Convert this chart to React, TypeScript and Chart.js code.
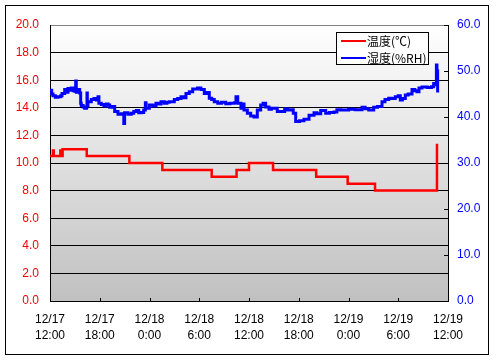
import React, { useEffect, useRef } from 'react';
import { Chart, registerables } from 'chart.js';
Chart.register(...registerables);

const seriesNames = ['温度(℃)', '湿度(%RH)'];
const xTickHours = [0, 6, 12, 18, 24, 30, 36, 42, 48];
const xTickLabels = [
  ['12/17', '12:00'], ['12/17', '18:00'], ['12/18', '0:00'], ['12/18', '6:00'],
  ['12/18', '12:00'], ['12/18', '18:00'], ['12/19', '0:00'], ['12/19', '6:00'], ['12/19', '12:00'],
];

const tempHours = [0, 0.35, 0.45, 1.25, 1.3, 1.52, 4.43, 9.57, 13.55, 19.5, 22.5, 24.0, 26.9, 32.1, 35.9, 39.2, 46.67];
const tempValues = [10.5, 10.9, 10.5, 10.9, 10.5, 11.0, 10.5, 10.0, 9.5, 9.0, 9.5, 10.0, 9.5, 9.0, 8.5, 8.0, 11.4];

const humidHours = [
  0, 0.2, 0.36, 0.64, 0.96, 1.3, 1.45, 1.77, 2.0, 2.17, 2.4, 2.57, 2.8, 2.98, 3.1, 3.17, 3.4, 3.58, 3.7, 3.77,
  4.0, 4.18, 4.4, 4.46, 4.5, 4.58, 4.98, 5.3, 5.6, 5.79, 5.9, 6.19, 6.5, 6.79, 7.0, 7.2, 7.5, 7.8, 8.2, 8.6,
  8.9, 9.0, 9.4, 9.8, 10.1, 10.41, 10.7, 11.01, 11.3, 11.5, 11.58, 11.98, 12.4, 12.78, 13.1, 13.39, 13.78, 14.1, 14.39, 14.99,
  15.4, 15.8, 16.1, 16.4, 16.8, 17.21, 17.8, 18.2, 18.61, 18.9, 19.21, 19.5, 19.81, 20.23, 20.7, 21.2, 21.7, 22.23, 22.43, 22.64,
  23.03, 23.2, 23.4, 23.8, 24.2, 24.6, 25.0, 25.41, 25.7, 26.01, 26.41, 26.7, 27.01, 27.41, 28.02, 28.3, 28.62, 29.0, 29.34, 29.63,
  30.1, 30.63, 31.24, 31.84, 32.2, 32.65, 33.25, 33.7, 34.25, 34.6, 35.06, 35.46, 36.02, 36.8, 37.63, 38.0, 38.44, 39.04, 39.5, 40.04,
  40.4, 40.85, 41.2, 41.64, 42.0, 42.25, 42.5, 42.85, 43.2, 43.66, 44.0, 44.26, 44.5, 44.86, 45.5, 46.0, 46.27, 46.5, 46.6, 46.67, 46.75,
];
const humidValues = [
  45.8, 45.0, 44.6, 44.3, 44.4, 44.6, 45.1, 46.0, 45.4, 46.2, 45.8, 46.3, 45.7, 45.6, 47.8, 45.4, 46.0, 45.2, 43.0, 42.5,
  42.2, 41.9, 42.2, 45.2, 42.5, 43.3, 43.8, 44.0, 43.7, 44.4, 43.0, 42.7, 42.4, 42.8, 42.6, 42.1, 42.3, 41.2, 40.6, 40.7,
  38.6, 40.9, 40.6, 40.8, 41.2, 41.4, 40.9, 41.0, 41.5, 43.1, 41.9, 42.6, 42.4, 43.0, 42.8, 43.3, 43.0, 43.2, 43.3, 43.8,
  44.0, 44.4, 44.2, 45.1, 45.5, 46.1, 46.3, 46.0, 45.1, 45.3, 44.1, 43.8, 43.3, 43.0, 43.2, 42.9, 43.0, 43.1, 44.4, 43.0,
  41.9, 42.8, 41.5, 40.8, 40.2, 40.0, 41.5, 42.6, 43.0, 42.2, 41.7, 41.9, 41.9, 41.2, 41.2, 41.8, 41.5, 41.6, 40.8, 39.0,
  39.2, 39.5, 40.4, 40.9, 40.7, 41.4, 40.8, 41.0, 41.1, 41.6, 41.5, 41.5, 41.7, 41.6, 42.1, 41.8, 41.5, 42.1, 42.3, 43.3,
  43.8, 44.1, 44.0, 44.4, 44.6, 43.7, 44.0, 44.8, 45.0, 46.0, 45.7, 45.5, 46.3, 46.5, 46.4, 46.6, 47.3, 47.0, 51.3, 50.0, 45.3,
];

const seriesColors = ['#ff0000', '#0000ff'];
const FONT = '"Liberation Sans", Arial, sans-serif';
const CJK = '"Noto Sans CJK JP", "Liberation Sans", sans-serif';

const decor = {
  id: 'decor',
  beforeDraw(chart: any) {
    const { ctx, chartArea: a } = chart;
    ctx.save();
    ctx.fillStyle = '#ffffff';
    ctx.fillRect(0, 0, chart.width, chart.height);
    const g = ctx.createLinearGradient(0, a.top, 0, a.bottom);
    g.addColorStop(0, '#ffffff');
    g.addColorStop(1, '#c0c0c0');
    ctx.fillStyle = g;
    ctx.fillRect(a.left, a.top, a.right - a.left, a.bottom - a.top);
    ctx.strokeStyle = '#000';
    ctx.lineWidth = 1;
    ctx.strokeRect(5.5, 5.5, 483, 349);
    ctx.restore();
  },
  afterDraw(chart: any) {
    const { ctx, chartArea: a } = chart;
    const y2 = chart.scales.y2;
    const x = chart.scales.x;
    ctx.save();
    ctx.strokeStyle = '#000';
    ctx.lineWidth = 1;
    ctx.beginPath();
    y2.ticks.forEach((t: any) => {
      const py = Math.round(y2.getPixelForValue(t.value)) + 0.5;
      ctx.moveTo(a.right - 4, py);
      ctx.lineTo(a.right, py);
    });
    x.ticks.forEach((t: any) => {
      const px = Math.round(x.getPixelForValue(t.value)) + 0.5;
      ctx.moveTo(px, a.bottom);
      ctx.lineTo(px, a.bottom - 3);
    });
    ctx.stroke();
    // legend
    const lx = 336, ly = 32, lw = 92, lh = 32;
    ctx.fillStyle = '#ffffff';
    ctx.fillRect(lx, ly, lw, lh);
    ctx.strokeRect(lx + 0.5, ly + 0.5, lw, lh);
    const rows = [41, 58];
    seriesNames.forEach((name, i) => {
      ctx.strokeStyle = seriesColors[i];
      ctx.lineWidth = 2;
      ctx.beginPath();
      ctx.moveTo(341, rows[i]);
      ctx.lineTo(366, rows[i]);
      ctx.stroke();
      ctx.fillStyle = '#000';
      ctx.font = `12px ${CJK}`;
      ctx.textBaseline = 'middle';
      ctx.textAlign = 'left';
      ctx.fillText(name, 367, rows[i]);
    });
    ctx.restore();
  },
};

export default function App() {
  const ref = useRef<HTMLCanvasElement>(null);
  useEffect(() => {
    const tempData = tempHours.map((h, i) => ({ x: h, y: tempValues[i] }));
    const humidData = humidHours.map((h, i) => ({ x: h, y: humidValues[i] }));
    const chart = new Chart(ref.current as HTMLCanvasElement, {
      type: 'line',
      data: {
        datasets: [
          {
            label: seriesNames[0], data: tempData, yAxisID: 'y', borderColor: seriesColors[0],
            borderWidth: 2.5, pointRadius: 0, stepped: 'before', fill: false,
          },
          {
            label: seriesNames[1], data: humidData, yAxisID: 'y2', borderColor: seriesColors[1],
            borderWidth: 3, pointRadius: 0, stepped: 'before', fill: false,
          },
        ],
      },
      options: {
        animation: false,
        responsive: false,
        layout: { padding: { top: 25, left: 0, right: 0, bottom: 0 } },
        plugins: { legend: { display: false }, tooltip: { enabled: false } },
        scales: {
          x: {
            type: 'linear', min: 0, max: 48,
            afterBuildTicks: (s: any) => { s.ticks = xTickHours.map((v) => ({ value: v })); },
            ticks: {
              autoSkip: false, maxRotation: 0, padding: 11, color: '#000',
              font: { family: FONT, size: 12, lineHeight: 16 / 12 },
              callback: (v: any) => xTickLabels[xTickHours.indexOf(Number(v))] || '',
            },
            grid: { display: false, drawTicks: false },
            border: { display: true, color: '#000', width: 1 },
            afterFit: (s: any) => { s.height = 60; },
          },
          y: {
            position: 'left', min: 0, max: 20,
            ticks: {
              stepSize: 2, padding: 11, color: '#ff0000',
              font: { family: FONT, size: 12 },
              callback: (v: any) => Number(v).toFixed(1),
            },
            grid: {
              drawTicks: false,
              color: (c: any) => (c.tick && c.tick.value === 20 ? '#808080' : '#000000'),
              lineWidth: 1,
            },
            border: { display: true, color: '#000', width: 1 },
            afterFit: (s: any) => { s.width = 50; },
          },
          y2: {
            position: 'right', min: 0, max: 60,
            ticks: {
              stepSize: 10, padding: 9, color: '#0000ff',
              font: { family: FONT, size: 12 },
              callback: (v: any) => Number(v).toFixed(1),
            },
            grid: { display: false, drawTicks: false },
            border: { display: true, color: '#000', width: 1 },
            afterFit: (s: any) => { s.width = 49; },
          },
        },
      },
      plugins: [decor],
    } as any);
    return () => chart.destroy();
  }, []);
  return (
    <div style={{ position: 'absolute', left: 0, top: 0, width: 497, height: 361 }}>
      <canvas ref={ref} width={497} height={361} />
    </div>
  );
}
